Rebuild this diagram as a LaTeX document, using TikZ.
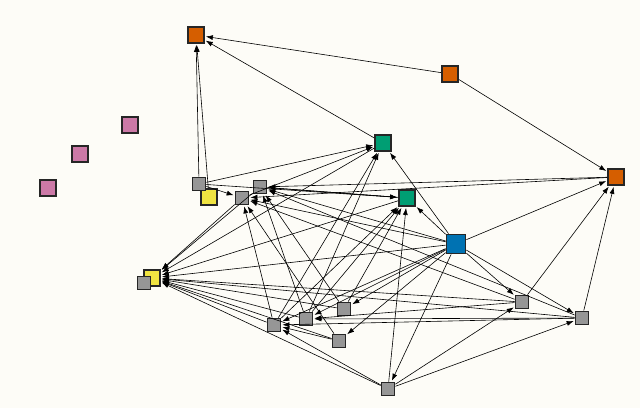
\documentclass[tikz,border=0pt]{standalone}
\usepackage{tikz}
\usetikzlibrary{arrows.meta}
\definecolor{bgpaper}{RGB}{253,252,247}
\definecolor{nodeorange}{RGB}{213,94,0}
\definecolor{nodepink}{RGB}{204,121,167}
\definecolor{nodegreen}{RGB}{0,158,115}
\definecolor{nodeblue}{RGB}{0,114,178}
\definecolor{nodeyellow}{RGB}{240,228,66}
\definecolor{nodegray}{RGB}{150,150,150}
\tikzset{
  sq/.style={draw=black!85, line width=1.8pt, minimum size=13pt, inner sep=0pt},
  big/.style={sq, minimum size=19pt},
  mid/.style={sq, minimum size=16pt},
  link/.style={-{Latex[length=7pt,width=5pt]}, line width=0.6pt, shorten >=1pt}
}
\begin{document}
\begin{tikzpicture}[x=1pt,y=-1pt]
  \fill[bgpaper] (0,0) rectangle (640,408);
  \useasboundingbox (0,0) rectangle (640,408);
  % coloured nodes
  \node[mid, fill=nodeorange] (o1) at (196,35) {};
  \node[mid, fill=nodeorange] (o2) at (450,74) {};
  \node[mid, fill=nodeorange] (o3) at (616,177) {};
  \node[mid, fill=nodepink] (p1) at (130,125) {};
  \node[mid, fill=nodepink] (p2) at (80,154) {};
  \node[mid, fill=nodepink] (p3) at (48,188) {};
  \node[mid, fill=nodegreen] (g1) at (383,143) {};
  \node[mid, fill=nodegreen] (g2) at (407,198) {};
  \node[big, fill=nodeblue] (bl) at (456,244) {};
  \node[mid, fill=nodeyellow] (y1) at (209,197) {};
  \node[mid, fill=nodeyellow] (y2) at (152,278) {};
  % gray nodes
  \foreach \n/\x/\y in {a/199/184, b/260/187, c/242/198, d/144/283, e/274/325,
      f/306/319, g/344/309, h/339/341, i/522/302, j/582/318, k/388/389}
    \node[sq, fill=nodegray] (\n) at (\x,\y) {};
  % connectors
  \foreach \s/\t in {o2/o1, o2/o3, a/o1, g1/o1,
      bl/g1, bl/g2, bl/o3, a/g1, c/g1, a/g2, b/g2, o3/c, o3/b,
      bl/c, bl/b, bl/y2, bl/i, bl/j, bl/k, bl/e, bl/f, bl/g, bl/h,
      g2/y2, g1/y2, c/y2, b/y2, e/c, f/b, g/b, h/c, i/c, j/b, g2/b,
      e/g1, f/g1, e/g2, f/g2, g/g2, k/g2,
      k/e, h/e, i/y2, j/y2, k/y2, e/y2, f/y2, g/y2, h/y2,
      i/f, j/f, j/e, k/i, k/j, j/o3, i/o3, a/c, y1/o1}
    \draw[link] (\s) -- (\t);
\end{tikzpicture}
\end{document}
